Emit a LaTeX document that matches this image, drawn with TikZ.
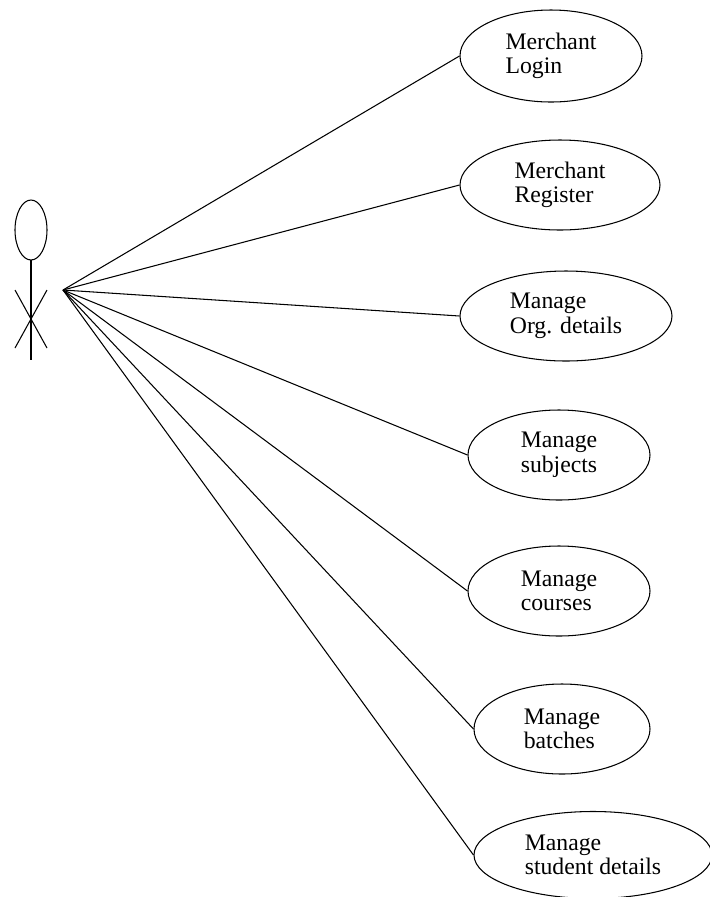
\documentclass[tikz,border=0pt]{standalone}
\usepackage{fontspec}
\setmainfont{Liberation Serif}
\usetikzlibrary{shapes.geometric}

\begin{document}
\begin{tikzpicture}[line width=0.6pt,
  usecase/.style={ellipse,draw,inner sep=0pt,align=left,
    minimum height=1.8cm,font=\fontsize{13.5}{14}\selectfont}]
  \useasboundingbox (0,0) rectangle (14.2,-17.94);

  % actor
  \draw (0.62,-4.6) ellipse (0.32 and 0.6);
  \draw (0.62,-5.2) -- (0.62,-7.2);
  \draw (0.3,-5.8) -- (0.94,-6.96);
  \draw (0.94,-5.8) -- (0.3,-6.96);
  \coordinate (hub) at (1.26,-5.8);

  % use cases
  \node[usecase,minimum width=3.64cm,minimum height=1.84cm] (login) at (11.02,-1.12) {Merchant\\Login};
  \node[usecase,minimum width=4.0cm] (register) at (11.2,-3.7) {Merchant\\Register};
  \node[usecase,minimum width=4.24cm] (org) at (11.32,-6.32) {Manage\\Org. details};
  \node[usecase,minimum width=3.64cm] (subjects) at (11.18,-9.1) {Manage\\subjects};
  \node[usecase,minimum width=3.64cm] (courses) at (11.18,-11.82) {Manage\\courses};
  \node[usecase,minimum width=3.52cm] (batches) at (11.24,-14.58) {Manage\\batches};
  \node[usecase,minimum width=4.76cm,minimum height=1.74cm] (students) at (11.86,-17.1) {Manage\\student details};

  \foreach \uc in {login,register,org,subjects,courses,batches,students}
    \draw (hub) -- (\uc.west);
\end{tikzpicture}
\end{document}
